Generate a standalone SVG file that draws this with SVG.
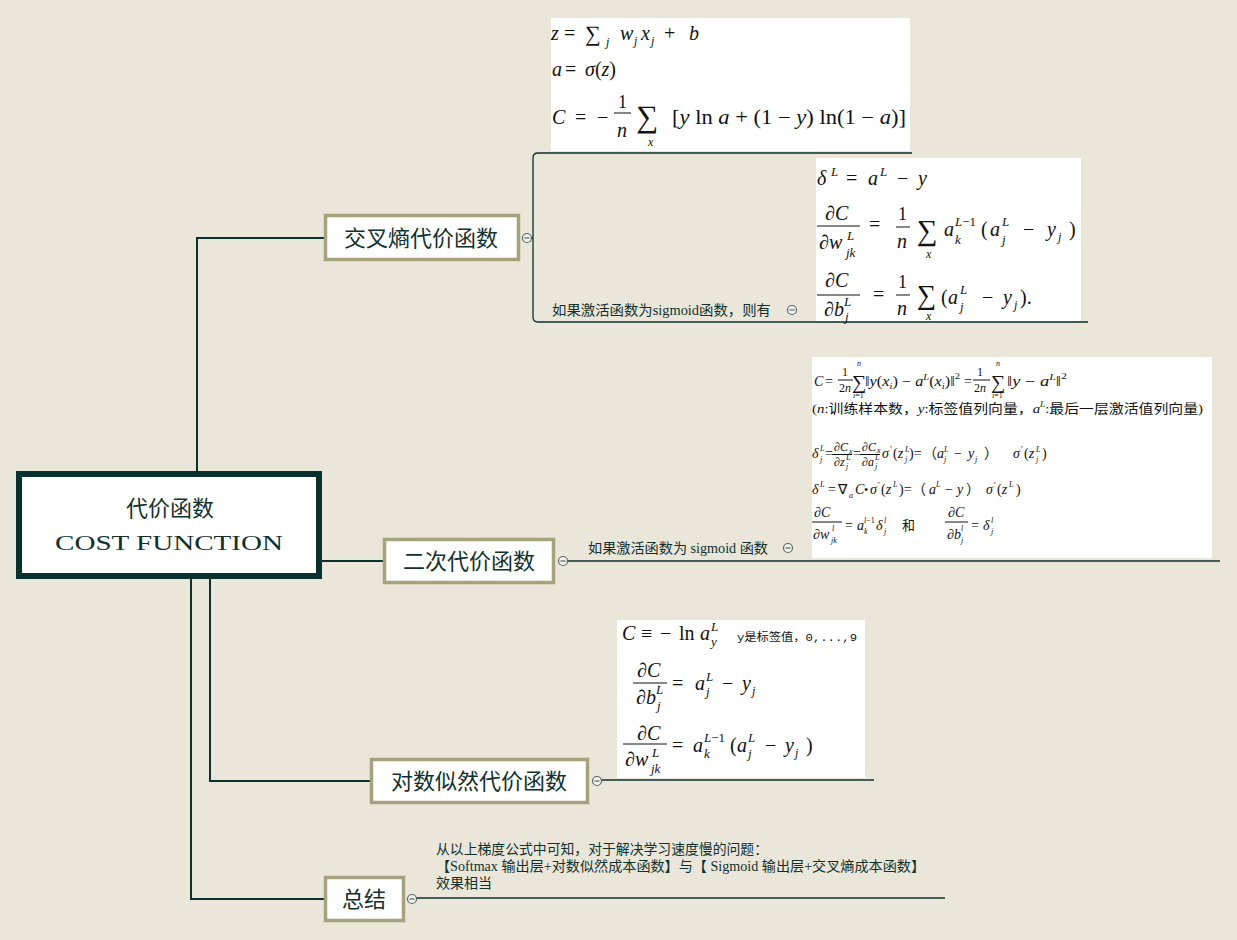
<svg xmlns="http://www.w3.org/2000/svg" width="1237" height="940" viewBox="0 0 1237 940">
<style>
.conn{stroke:#0B302E;stroke-width:2;fill:none}
.uline{stroke:#0B302E;stroke-width:1.3;fill:none}
.node{fill:#fff;stroke:#A7A27E;stroke-width:3.5}
.root{fill:#fff;stroke:#08302E;stroke-width:6}
.lbl{font-family:"Liberation Serif","Noto Sans CJK SC",serif;font-size:22px;fill:#10302E;text-anchor:middle}
.note{font-family:"Liberation Serif","Noto Sans CJK SC",serif;font-size:14px;fill:#10302E}
.fbox{fill:#fff}
.m{font-family:"Liberation Serif",serif;font-style:italic;fill:#111}
.r{font-family:"Liberation Serif",serif;font-style:normal;fill:#111}
.fl{stroke:#111;stroke-width:1}
.cc{fill:#F2F2EC;stroke:#55686A;stroke-width:1.2}
.cm{stroke:#55686A;stroke-width:1.2}
</style>
<defs>
<g id="col"><circle r="4.5" class="cc"/><line x1="-2.5" y1="0" x2="2.5" y2="0" class="cm"/></g>
</defs>
<rect width="1237" height="940" fill="#EAE7DA"/>

<g id="connectors">
<polyline class="conn" points="197,471 197,238 324,238"/>
<line class="conn" x1="322" y1="561" x2="383" y2="561"/>
<polyline class="conn" points="210,579 210,781 370,781"/>
<polyline class="conn" points="191,579 191,899 324,899"/>
<line class="uline" x1="531" y1="238" x2="533" y2="238"/>
<path class="uline" d="M912,153 H538 Q533,153 533,158 V317 Q533,322 538,322 H1088"/>
<line class="uline" x1="567" y1="561" x2="1220" y2="561"/>
<line class="uline" x1="601" y1="780" x2="874" y2="780"/>
<line class="uline" x1="416" y1="898" x2="945" y2="898"/>
</g>

<g id="root">
<rect class="root" x="19" y="474" width="300" height="102"/>
<text class="lbl" x="170" y="516" font-size="27">代价函数</text>
<text class="lbl" x="169" y="550" font-size="26" textLength="228" lengthAdjust="spacingAndGlyphs">COST FUNCTION</text>
</g>

<g id="n-cross">
<rect class="node" x="325.5" y="215.5" width="193" height="44"/>
<text class="lbl" x="421" y="246">交叉熵代价函数</text>
<use href="#col" x="527" y="238"/>
</g>

<g id="n-quad">
<rect class="node" x="384.5" y="539.5" width="169" height="43"/>
<text class="lbl" x="469" y="569">二次代价函数</text>
<use href="#col" x="563" y="561"/>
</g>

<g id="n-log">
<rect class="node" x="371.5" y="759.5" width="216" height="43"/>
<text class="lbl" x="479" y="789">对数似然代价函数</text>
<use href="#col" x="597" y="781"/>
</g>

<g id="n-sum">
<rect class="node" x="325.5" y="877.5" width="78" height="43"/>
<text class="lbl" x="364" y="907">总结</text>
<use href="#col" x="412" y="899"/>
</g>

<g id="cross-formula-1">
<rect class="fbox" x="551" y="18" width="359" height="133"/>
<text class="m" font-size="20" x="551" y="40">z</text>
<text class="r" font-size="20" x="564" y="40">=</text>
<text class="r" font-size="22" x="585" y="41">∑</text>
<text class="m" font-size="12" x="606" y="46">j</text>
<text class="m" font-size="20" x="620" y="40">w</text>
<text class="m" font-size="12" x="634" y="45">j</text>
<text class="m" font-size="20" x="641" y="40">x</text>
<text class="m" font-size="12" x="651" y="45">j</text>
<text class="r" font-size="20" x="664" y="40">+</text>
<text class="m" font-size="20" x="689" y="40">b</text>
<text class="m" font-size="20" x="552" y="76">a</text>
<text class="r" font-size="20" x="565" y="76">=</text>
<text class="m" font-size="20" x="585" y="76">σ<tspan class="r">(</tspan>z<tspan class="r">)</tspan></text>
<text class="m" font-size="20" x="552" y="124">C</text>
<text class="r" font-size="20" x="575" y="124">=</text>
<text class="r" font-size="20" x="597" y="124">−</text>
<text class="r" font-size="18" x="618" y="108">1</text>
<line class="fl" x1="614" y1="113" x2="631" y2="113"/>
<text class="m" font-size="20" x="617" y="137">n</text>
<text class="r" font-size="31" x="636" y="127">∑</text>
<text class="m" font-size="12" x="648" y="146">x</text>
<text class="r" font-size="20" x="672" y="124" textLength="234" lengthAdjust="spacingAndGlyphs">[<tspan class="m">y</tspan> ln <tspan class="m">a</tspan> + (1 − <tspan class="m">y</tspan>) ln(1 − <tspan class="m">a</tspan>)]</text>
</g>

<g id="cross-sigmoid-label">
<text class="note" x="552" y="315" textLength="219" lengthAdjust="spacingAndGlyphs">如果激活函数为sigmoid函数，则有</text>
<use href="#col" x="792" y="310"/>
</g>

<g id="cross-formula-2">
<rect class="fbox" x="816" y="158" width="265" height="163"/>
<text class="m" font-size="20" x="817" y="185">δ</text>
<text class="m" font-size="13" x="831" y="176">L</text>
<text class="r" font-size="20" x="846" y="185">=</text>
<text class="m" font-size="20" x="868" y="185">a</text>
<text class="m" font-size="13" x="880" y="176">L</text>
<text class="r" font-size="20" x="897" y="185">−</text>
<text class="m" font-size="20" x="918" y="185">y</text>

<text class="m" font-size="20" x="825" y="220">∂C</text>
<line class="fl" x1="817" y1="226" x2="860" y2="226"/>
<text class="m" font-size="20" x="819" y="249">∂w</text>
<text class="m" font-size="13" x="847" y="240">L</text>
<text class="m" font-size="13" x="846" y="257">jk</text>
<text class="r" font-size="20" x="869" y="231">=</text>
<text class="r" font-size="18" x="898" y="220">1</text>
<line class="fl" x1="896" y1="227" x2="910" y2="227"/>
<text class="m" font-size="20" x="897" y="248">n</text>
<text class="r" font-size="29" x="917" y="240">∑</text>
<text class="m" font-size="12" x="926" y="258">x</text>
<text class="m" font-size="20" x="944" y="236">a</text>
<text class="m" font-size="13" x="955" y="226">L<tspan class="r">−1</tspan></text>
<text class="m" font-size="13" x="955" y="244">k</text>
<text class="r" font-size="20" x="981" y="236">(</text>
<text class="m" font-size="20" x="990" y="236">a</text>
<text class="m" font-size="13" x="1002" y="226">L</text>
<text class="m" font-size="13" x="1002" y="244">j</text>
<text class="r" font-size="20" x="1023" y="236">−</text>
<text class="m" font-size="20" x="1047" y="236">y</text>
<text class="m" font-size="12" x="1058" y="241">j</text>
<text class="r" font-size="20" x="1069" y="236">)</text>

<text class="m" font-size="20" x="825" y="287">∂C</text>
<line class="fl" x1="817" y1="295" x2="860" y2="295"/>
<text class="m" font-size="20" x="824" y="316">∂b</text>
<text class="m" font-size="13" x="844" y="306">L</text>
<text class="m" font-size="13" x="845" y="321">j</text>
<text class="r" font-size="20" x="873" y="301">=</text>
<text class="r" font-size="18" x="898" y="288">1</text>
<line class="fl" x1="896" y1="295" x2="910" y2="295"/>
<text class="m" font-size="20" x="897" y="315">n</text>
<text class="r" font-size="27" x="917" y="304">∑</text>
<text class="m" font-size="12" x="926" y="320">x</text>
<text class="r" font-size="20" x="941" y="304">(</text>
<text class="m" font-size="20" x="948" y="304">a</text>
<text class="m" font-size="13" x="960" y="294">L</text>
<text class="m" font-size="13" x="960" y="311">j</text>
<text class="r" font-size="20" x="982" y="304">−</text>
<text class="m" font-size="20" x="1003" y="304">y</text>
<text class="m" font-size="12" x="1014" y="309">j</text>
<text class="r" font-size="20" x="1020" y="304">).</text>
</g>

<g id="quad-sigmoid-label">
<text class="note" x="588" y="553" textLength="180" lengthAdjust="spacingAndGlyphs">如果激活函数为 sigmoid 函数</text>
<use href="#col" x="788" y="548"/>
</g>

<g id="quad-formula">
<rect class="fbox" x="812" y="357" width="400" height="201"/>
<text class="m" font-size="14" x="814" y="386">C</text>
<text class="r" font-size="14" x="825" y="386">=</text>
<text class="r" font-size="12" x="842" y="376">1</text>
<line class="fl" x1="838" y1="380" x2="853" y2="380"/>
<text class="r" font-size="12" x="839" y="392">2<tspan class="m">n</tspan></text>
<text class="r" font-size="20" x="852" y="389">∑</text>
<text class="m" font-size="8" x="857" y="366">n</text>
<text class="m" font-size="8" x="853" y="398">i<tspan class="r">=1</tspan></text>
<text class="r" font-size="14" x="865" y="386" textLength="95" lengthAdjust="spacingAndGlyphs">‖<tspan class="m">y</tspan>(<tspan class="m">x</tspan><tspan class="m" font-size="9" dy="3">i</tspan><tspan dy="-3">) − </tspan><tspan class="m">a</tspan><tspan class="m" font-size="9" dy="-6">L</tspan><tspan dy="6">(</tspan><tspan class="m">x</tspan><tspan class="m" font-size="9" dy="3">i</tspan><tspan dy="-3">)‖</tspan><tspan font-size="9" dy="-7">2</tspan></text>
<text class="r" font-size="14" x="964" y="386">=</text>
<text class="r" font-size="12" x="977" y="376">1</text>
<line class="fl" x1="973" y1="380" x2="990" y2="380"/>
<text class="r" font-size="12" x="974" y="392">2<tspan class="m">n</tspan></text>
<text class="r" font-size="20" x="991" y="389">∑</text>
<text class="m" font-size="8" x="996" y="366">n</text>
<text class="m" font-size="8" x="992" y="398">i<tspan class="r">=1</tspan></text>
<text class="r" font-size="14" x="1007" y="386" textLength="60" lengthAdjust="spacingAndGlyphs">‖<tspan class="m">y</tspan> − <tspan class="m">a</tspan><tspan class="m" font-size="9" dy="-6">L</tspan><tspan dy="6">‖</tspan><tspan font-size="9" dy="-7">2</tspan></text>

<text class="r" font-size="13" x="812" y="413" textLength="391" lengthAdjust="spacingAndGlyphs" style="font-family:'Liberation Serif','Noto Sans CJK SC',serif">(<tspan class="m">n</tspan>:训练样本数，<tspan class="m">y</tspan>:标签值列向量，<tspan class="m">a</tspan><tspan class="m" font-size="8" dy="-6">L</tspan><tspan dy="6">:最后一层激活值列向量)</tspan></text>

<text class="m" font-size="14" x="812" y="458">δ</text>
<text class="m" font-size="8" x="820" y="451">L</text>
<text class="m" font-size="8" x="820" y="462">j</text>
<text class="r" font-size="14" x="825" y="458">=</text>
<text class="m" font-size="12" x="834" y="451">∂C</text>
<text class="m" font-size="8" x="849" y="454">x</text>
<line class="fl" x1="832" y1="454.5" x2="852" y2="454.5"/>
<text class="m" font-size="12" x="834" y="466">∂z</text>
<text class="m" font-size="8" x="846" y="460">L</text>
<text class="m" font-size="8" x="846" y="469">j</text>
<text class="r" font-size="14" x="853" y="458">=</text>
<text class="m" font-size="12" x="862" y="451">∂C</text>
<text class="m" font-size="8" x="877" y="453">x</text>
<line class="fl" x1="860" y1="454.5" x2="880" y2="454.5"/>
<text class="m" font-size="12" x="862" y="466">∂a</text>
<text class="m" font-size="8" x="875" y="460">L</text>
<text class="m" font-size="8" x="875" y="469">j</text>
<text class="m" font-size="14" x="882" y="458">σ</text>
<text class="r" font-size="9" x="890" y="452">'</text>
<text class="r" font-size="14" x="893" y="458">(<tspan class="m">z</tspan></text>
<text class="m" font-size="8" x="905" y="452">L</text>
<text class="m" font-size="8" x="905" y="462">j</text>
<text class="r" font-size="14" x="909" y="458">)=</text>
<text class="r" font-size="14" x="923" y="458" style="font-family:'Noto Sans CJK SC',sans-serif">（</text>
<text class="m" font-size="14" x="937" y="458">a</text>
<text class="m" font-size="8" x="944" y="452">L</text>
<text class="m" font-size="8" x="944" y="462">j</text>
<text class="r" font-size="14" x="954" y="458">−</text>
<text class="m" font-size="14" x="968" y="458">y</text>
<text class="m" font-size="8" x="975" y="462">j</text>
<text class="r" font-size="14" x="984" y="458" style="font-family:'Noto Sans CJK SC',sans-serif">）</text>
<text class="m" font-size="14" x="1013" y="458">σ</text>
<text class="r" font-size="9" x="1021" y="452">'</text>
<text class="r" font-size="14" x="1024" y="458">(<tspan class="m">z</tspan></text>
<text class="m" font-size="8" x="1036" y="452">L</text>
<text class="m" font-size="8" x="1036" y="462">j</text>
<text class="r" font-size="14" x="1042" y="458">)</text>

<text class="m" font-size="14" x="812" y="494">δ</text>
<text class="m" font-size="8" x="820" y="487">L</text>
<text class="r" font-size="14" x="828" y="494">=</text>
<text class="r" font-size="14" x="838" y="494">∇</text>
<text class="m" font-size="8" x="849" y="498">a</text>
<text class="m" font-size="14" x="855" y="494">C</text>
<text class="r" font-size="12" x="864" y="494">•</text>
<text class="m" font-size="14" x="870" y="494">σ</text>
<text class="r" font-size="9" x="878" y="488">'</text>
<text class="r" font-size="14" x="881" y="494">(<tspan class="m">z</tspan></text>
<text class="m" font-size="8" x="893" y="487">L</text>
<text class="r" font-size="14" x="899" y="494">)=</text>
<text class="r" font-size="14" x="912" y="494" style="font-family:'Noto Sans CJK SC',sans-serif">（</text>
<text class="m" font-size="14" x="929" y="494">a</text>
<text class="m" font-size="8" x="936" y="487">L</text>
<text class="r" font-size="14" x="945" y="494">−</text>
<text class="m" font-size="14" x="957" y="494">y</text>
<text class="r" font-size="14" x="966" y="494" style="font-family:'Noto Sans CJK SC',sans-serif">）</text>
<text class="m" font-size="14" x="986" y="494">σ</text>
<text class="r" font-size="9" x="994" y="488">'</text>
<text class="r" font-size="14" x="997" y="494">(<tspan class="m">z</tspan></text>
<text class="m" font-size="8" x="1009" y="487">L</text>
<text class="r" font-size="14" x="1016" y="494">)</text>

<text class="m" font-size="14" x="814" y="517">∂C</text>
<line class="fl" x1="812" y1="522" x2="842" y2="522"/>
<text class="m" font-size="14" x="813" y="539">∂w</text>
<text class="m" font-size="8" x="832" y="531">l</text>
<text class="m" font-size="8" x="831" y="543">jk</text>
<text class="r" font-size="14" x="845" y="530">=</text>
<text class="m" font-size="14" x="857" y="530">a</text>
<text class="m" font-size="8" x="864" y="523">l<tspan class="r">−1</tspan></text>
<text class="m" font-size="8" x="864" y="534">k</text>
<text class="m" font-size="14" x="876" y="530">δ</text>
<text class="m" font-size="8" x="884" y="523">l</text>
<text class="m" font-size="8" x="884" y="534">j</text>
<text class="r" font-size="13" x="902" y="530" style="font-family:'Noto Sans CJK SC',sans-serif">和</text>
<text class="m" font-size="14" x="948" y="517">∂C</text>
<line class="fl" x1="945" y1="522" x2="968" y2="522"/>
<text class="m" font-size="14" x="947" y="539">∂b</text>
<text class="m" font-size="8" x="961" y="531">l</text>
<text class="m" font-size="8" x="961" y="543">j</text>
<text class="r" font-size="14" x="971" y="530">=</text>
<text class="m" font-size="14" x="983" y="530">δ</text>
<text class="m" font-size="8" x="991" y="523">l</text>
<text class="m" font-size="8" x="991" y="534">j</text>
</g>

<g id="log-formula">
<rect class="fbox" x="617" y="620" width="248" height="158"/>
<text class="m" font-size="20" x="622" y="640">C</text>
<text class="r" font-size="20" x="641" y="640">≡</text>
<text class="r" font-size="20" x="660" y="640">−</text>
<text class="r" font-size="20" x="679" y="640">ln</text>
<text class="m" font-size="20" x="700" y="640">a</text>
<text class="m" font-size="13" x="711" y="631">L</text>
<text class="m" font-size="13" x="711" y="646">y</text>
<text x="737" y="641" font-size="11" textLength="120" lengthAdjust="spacingAndGlyphs" style="font-family:'Liberation Mono','Noto Sans CJK SC',monospace;fill:#111">y是标签值，0,...,9</text>

<text class="m" font-size="20" x="637" y="677">∂C</text>
<line class="fl" x1="633" y1="683" x2="667" y2="683"/>
<text class="m" font-size="20" x="636" y="704">∂b</text>
<text class="m" font-size="13" x="656" y="694">L</text>
<text class="m" font-size="13" x="657" y="710">j</text>
<text class="r" font-size="20" x="672" y="690">=</text>
<text class="m" font-size="20" x="695" y="690">a</text>
<text class="m" font-size="13" x="706" y="681">L</text>
<text class="m" font-size="13" x="706" y="696">j</text>
<text class="r" font-size="20" x="722" y="690">−</text>
<text class="m" font-size="20" x="742" y="690">y</text>
<text class="m" font-size="12" x="752" y="695">j</text>

<text class="m" font-size="20" x="637" y="740">∂C</text>
<line class="fl" x1="623" y1="744" x2="667" y2="744"/>
<text class="m" font-size="20" x="625" y="766">∂w</text>
<text class="m" font-size="13" x="652" y="757">L</text>
<text class="m" font-size="13" x="651" y="773">jk</text>
<text class="r" font-size="20" x="672" y="752">=</text>
<text class="m" font-size="20" x="693" y="752">a</text>
<text class="m" font-size="13" x="704" y="742">L<tspan class="r">−1</tspan></text>
<text class="m" font-size="13" x="704" y="758">k</text>
<text class="r" font-size="20" x="730" y="752">(</text>
<text class="m" font-size="20" x="737" y="752">a</text>
<text class="m" font-size="13" x="748" y="742">L</text>
<text class="m" font-size="13" x="748" y="758">j</text>
<text class="r" font-size="20" x="765" y="752">−</text>
<text class="m" font-size="20" x="785" y="752">y</text>
<text class="m" font-size="12" x="795" y="757">j</text>
<text class="r" font-size="20" x="806" y="752">)</text>
</g>

<g id="summary-text">
<text class="note" x="436" y="854" textLength="332" lengthAdjust="spacingAndGlyphs">从以上梯度公式中可知，对于解决学习速度慢的问题：</text>
<text class="note" x="436" y="871" textLength="489" lengthAdjust="spacingAndGlyphs">【Softmax 输出层+对数似然成本函数】与【 Sigmoid 输出层+交叉熵成本函数】</text>
<text class="note" x="436" y="888">效果相当</text>
</g>
</svg>
